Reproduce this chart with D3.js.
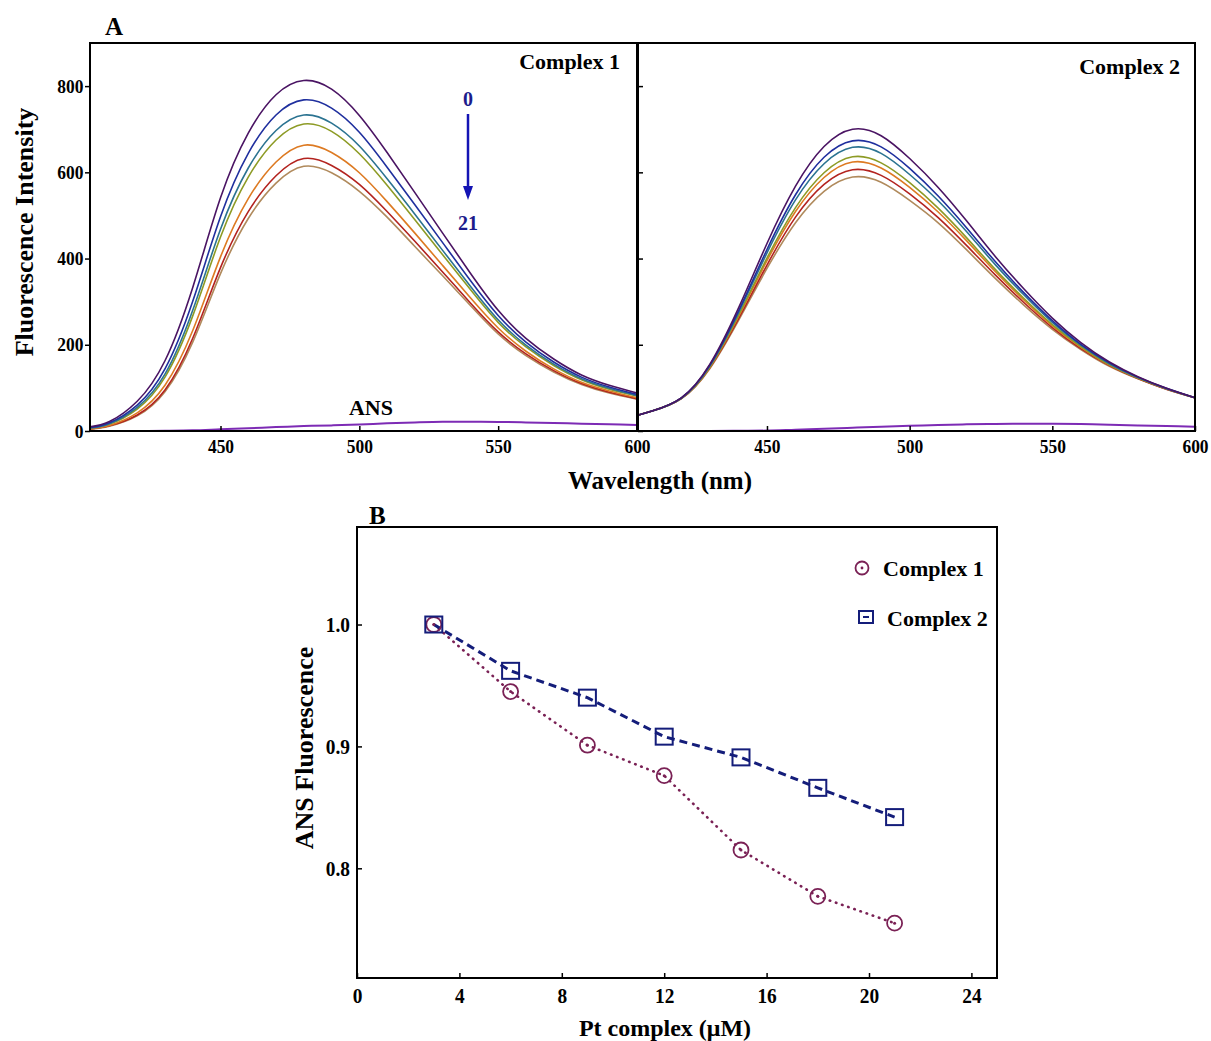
<!DOCTYPE html>
<html>
<head>
<meta charset="utf-8">
<script src="https://cdn.jsdelivr.net/npm/d3@7"></script>
<style>
body { margin: 0; background: #fff; }
text { font-family: "Liberation Serif", "Times New Roman", serif; font-weight: bold; fill: #000; }
</style>
</head>
<body>
<svg id="chart" width="1211" height="1041"></svg>
<script>
// wavelengths (nm) for the two spectra panels
var wlC1 = [403, 410, 420, 430, 440, 450, 460, 470, 480, 490, 500, 510, 520, 530, 540, 550, 560, 570, 580, 590, 600];
var wlC2 = [405, 410, 420, 430, 440, 450, 460, 470, 480, 490, 500, 510, 520, 530, 540, 550, 560, 570, 580, 590, 600];

// complex 1 spectra, top (0) to bottom (21)
var c1s1 = [10, 22, 69, 163, 333, 541, 691, 780, 813, 793, 732, 646, 553, 459, 366, 280, 215, 167, 130, 106, 88];
var c1s2 = [8, 19, 60, 144, 301, 497, 644, 733, 768, 749, 693, 612, 525, 437, 349, 268, 206, 160, 125, 102, 85];
var c1s3 = [7, 17, 55, 132, 280, 468, 610, 697, 733, 714, 661, 585, 503, 419, 336, 258, 199, 155, 121, 99, 82];
var c1s4 = [7, 16, 51, 125, 267, 450, 589, 675, 712, 695, 643, 570, 490, 409, 328, 252, 195, 152, 119, 97, 81];
var c1s5 = [5, 13, 42, 106, 233, 404, 539, 624, 663, 646, 599, 532, 459, 384, 309, 239, 185, 144, 113, 93, 77];
var c1s6 = [5, 12, 37, 95, 215, 379, 509, 592, 632, 616, 572, 509, 440, 369, 297, 230, 179, 140, 110, 90, 75];
var c1s7 = [4, 11, 35, 91, 206, 365, 493, 575, 614, 599, 556, 496, 428, 360, 291, 225, 175, 137, 108, 88, 74];
var ansC1 = [0, 0, 0, 0.5, 1.5, 4, 6.5, 9, 11.5, 13, 15, 18, 20, 21.5, 21.5, 21, 20, 18.5, 17, 15.5, 14];

// complex 2 spectra
var c2s1 = [37, 47, 77, 155, 285, 435, 568, 660, 700, 685, 632, 565, 487, 405, 330, 262, 205, 160, 126, 99, 77];
var c2s2 = [37, 47, 77, 153, 278, 421, 548, 635, 673, 659, 609, 545, 471, 393, 321, 256, 201, 158, 125, 99, 77];
var c2s3 = [37, 47, 76, 151, 274, 413, 536, 620, 658, 644, 595, 534, 462, 386, 316, 252, 199, 156, 124, 98, 77];
var c2s4 = [37, 47, 76, 149, 268, 401, 518, 599, 636, 622, 576, 517, 448, 375, 308, 247, 196, 154, 123, 98, 77];
var c2s5 = [37, 47, 76, 148, 265, 395, 509, 588, 624, 610, 565, 508, 441, 370, 304, 244, 194, 153, 123, 98, 77];
var c2s6 = [37, 47, 75, 147, 260, 385, 496, 572, 606, 593, 550, 495, 430, 362, 298, 240, 191, 152, 122, 97, 77];
var c2s7 = [37, 47, 75, 145, 256, 377, 483, 556, 589, 577, 535, 483, 420, 354, 292, 236, 189, 150, 121, 97, 77];
var ansC2 = [0, 0, 0, 0, 0.5, 1, 3, 5, 7.5, 10, 12, 14, 15.5, 16.5, 17, 17, 16, 14.5, 13, 11.5, 10];

var curveColors = ["#4a1463", "#1f2f9e", "#2b7391", "#8d9b25", "#dd7a22", "#b3231f", "#b08a5c"];

// panel B
var ptConc = [3, 6, 9, 12, 15, 18, 21];
var relC1 = [1.0, 0.945, 0.901, 0.876, 0.815, 0.777, 0.755];
var relC2 = [1.0, 0.962, 0.940, 0.908, 0.891, 0.866, 0.842];
var xTicksB = [0, 4, 8, 12, 16, 20, 24];
var yTicksB = [0.8, 0.9, 1.0];
var yTicksA = [0, 200, 400, 600, 800];
var xTicksA = [450, 500, 550, 600];

var svg = d3.select("#chart");

var yA = d3.scaleLinear().domain([0, 900]).range([431, 43]);
var xL = d3.scaleLinear().domain([403, 600]).range([90, 637]);
var xR = d3.scaleLinear().domain([404.8, 600]).range([638, 1195]);

function drawSpectra(g, x, wl, curves, ans) {
    var line = d3.line()
        .x(function(d, i) { return x(wl[i]); })
        .y(function(d) { return yA(d); })
        .curve(d3.curveNatural);
    var ansLine = d3.line()
        .x(function(d, i) { return x(wl[i]); })
        .y(function(d) { return yA(d); })
        .curve(d3.curveCatmullRom.alpha(0.5));
    g.append("path")
        .attr("d", ansLine(ans))
        .attr("fill", "none")
        .attr("stroke", "#7d2bb5")
        .attr("stroke-width", 2);
    // draw bottom curve first so the top one stays on top
    for (var k = curves.length - 1; k >= 0; k--) {
        g.append("path")
            .attr("d", line(curves[k]))
            .attr("fill", "none")
            .attr("stroke", curveColors[k])
            .attr("stroke-width", 1.6);
    }
}

drawSpectra(svg.append("g"), xL, wlC1, [c1s1, c1s2, c1s3, c1s4, c1s5, c1s6, c1s7], ansC1);
drawSpectra(svg.append("g"), xR, wlC2, [c2s1, c2s2, c2s3, c2s4, c2s5, c2s6, c2s7], ansC2);

// axes of panel A
var gyL = svg.append("g").attr("transform", "translate(90,0)")
    .call(d3.axisLeft(yA).tickValues(yTicksA).tickSize(5).tickPadding(2));
var gxL = svg.append("g").attr("transform", "translate(0,431)")
    .call(d3.axisBottom(xL).tickValues(xTicksA).tickSize(-5).tickPadding(9));
var gyR = svg.append("g").attr("transform", "translate(638,0)")
    .call(d3.axisLeft(yA).tickValues(yTicksA).tickSize(-5).tickFormat(""));
var gxR = svg.append("g").attr("transform", "translate(0,431)")
    .call(d3.axisBottom(xR).tickValues(xTicksA).tickSize(-5).tickPadding(9));

[gyL, gxL, gyR, gxR].forEach(function(g) {
    g.select(".domain").remove();
    g.selectAll("line").attr("stroke", "#000").attr("stroke-width", 1.5);
    g.selectAll("text").style("font-size", "19px").attr("fill", "#000")
        .attr("transform", "scale(0.92,1)");
});

// frames
svg.append("rect").attr("x", 90).attr("y", 43).attr("width", 547).attr("height", 388)
    .attr("fill", "none").attr("stroke", "#000").attr("stroke-width", 2);
svg.append("rect").attr("x", 638).attr("y", 43).attr("width", 557).attr("height", 388)
    .attr("fill", "none").attr("stroke", "#000").attr("stroke-width", 2);

// labels of panel A
svg.append("text").attr("x", 105).attr("y", 35).style("font-size", "25px").text("A");
svg.append("text").attr("x", 620).attr("y", 69).attr("text-anchor", "end").style("font-size", "22px").text("Complex 1");
svg.append("text").attr("x", 1180).attr("y", 74).attr("text-anchor", "end").style("font-size", "22px").text("Complex 2");
svg.append("text").attr("x", 371).attr("y", 415).attr("text-anchor", "middle").style("font-size", "22px").text("ANS");
svg.append("text").attr("x", 660).attr("y", 489).attr("text-anchor", "middle").style("font-size", "25px").text("Wavelength (nm)");
svg.append("text").attr("transform", "translate(33,232) rotate(-90)").attr("text-anchor", "middle")
    .style("font-size", "26px").text("Fluorescence Intensity");

// arrow 0 -> 21
svg.append("text").attr("x", 468).attr("y", 106).attr("text-anchor", "middle")
    .style("font-size", "20px").style("fill", "#1c1c8c").text("0");
svg.append("line").attr("x1", 468).attr("y1", 114).attr("x2", 468).attr("y2", 188)
    .attr("stroke", "#1414b4").attr("stroke-width", 2.5);
svg.append("path").attr("d", "M463,186 L473,186 L468,200 Z").attr("fill", "#1414b4");
svg.append("text").attr("x", 468).attr("y", 230).attr("text-anchor", "middle")
    .style("font-size", "20px").style("fill", "#1c1c8c").text("21");

// panel B
var xB = d3.scaleLinear().domain([0, 25]).range([357, 997]);
var yB = d3.scaleLinear().domain([0.71, 1.08]).range([978, 527]);
var col1 = "#7a2155", col2 = "#141d7a";

var gxB = svg.append("g").attr("transform", "translate(0,978)")
    .call(d3.axisBottom(xB).tickValues(xTicksB).tickSize(-5).tickPadding(9));
var gyB = svg.append("g").attr("transform", "translate(357,0)")
    .call(d3.axisLeft(yB).tickValues(yTicksB).tickFormat(d3.format(".1f")).tickSize(-5).tickPadding(8));
[gxB, gyB].forEach(function(g) {
    g.select(".domain").remove();
    g.selectAll("line").attr("stroke", "#000").attr("stroke-width", 1.5);
    g.selectAll("text").style("font-size", "22px").attr("fill", "#000")
        .attr("transform", "scale(0.88,1)");
});

svg.append("rect").attr("x", 357).attr("y", 527).attr("width", 640).attr("height", 451)
    .attr("fill", "none").attr("stroke", "#000").attr("stroke-width", 2);

var lineB = d3.line()
    .x(function(d, i) { return xB(ptConc[i]); })
    .y(function(d) { return yB(d); });

svg.append("path").attr("d", lineB(relC1)).attr("fill", "none")
    .attr("stroke", col1).attr("stroke-width", 2.6)
    .attr("stroke-dasharray", "0.5,6").attr("stroke-linecap", "round");
svg.append("path").attr("d", lineB(relC2)).attr("fill", "none")
    .attr("stroke", col2).attr("stroke-width", 3)
    .attr("stroke-dasharray", "8,5");

var circ = svg.append("g").selectAll("g").data(relC1).enter().append("g")
    .attr("transform", function(d, i) { return "translate(" + xB(ptConc[i]) + "," + yB(d) + ")"; });
circ.append("circle").attr("r", 7.5).attr("fill", "none").attr("stroke", col1).attr("stroke-width", 1.8);
circ.append("circle").attr("r", 1.5).attr("fill", col1);

svg.append("g").selectAll("rect").data(relC2).enter().append("rect")
    .attr("x", function(d, i) { return xB(ptConc[i]) - 8.5; })
    .attr("y", function(d) { return yB(d) - 8; })
    .attr("width", 17).attr("height", 16)
    .attr("fill", "none").attr("stroke", col2).attr("stroke-width", 2);

// legend
var lg = svg.append("g");
lg.append("circle").attr("cx", 862).attr("cy", 568).attr("r", 6.5).attr("fill", "none").attr("stroke", col1).attr("stroke-width", 1.8);
lg.append("circle").attr("cx", 862).attr("cy", 568).attr("r", 1.4).attr("fill", col1);
lg.append("text").attr("x", 883).attr("y", 576).style("font-size", "22px").text("Complex 1");
lg.append("rect").attr("x", 859).attr("y", 611).attr("width", 14).attr("height", 12)
    .attr("fill", "none").attr("stroke", col2).attr("stroke-width", 2);
lg.append("line").attr("x1", 863).attr("x2", 869).attr("y1", 617).attr("y2", 617).attr("stroke", col2).attr("stroke-width", 2);
lg.append("text").attr("x", 887).attr("y", 626).style("font-size", "22px").text("Complex 2");

svg.append("text").attr("x", 369).attr("y", 524).style("font-size", "25px").text("B");
svg.append("text").attr("x", 665).attr("y", 1036).attr("text-anchor", "middle").style("font-size", "24px").text("Pt complex (\u03bcM)");
svg.append("text").attr("transform", "translate(313,748) rotate(-90)").attr("text-anchor", "middle")
    .style("font-size", "26px").text("ANS Fluorescence");
</script>
</body>
</html>
